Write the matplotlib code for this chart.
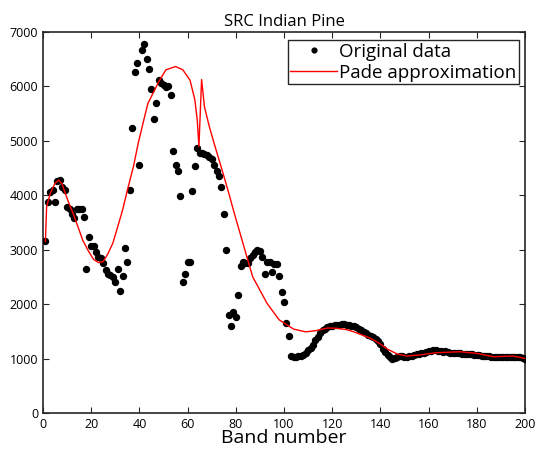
import numpy as np
import matplotlib
matplotlib.use("Agg")
import matplotlib.pyplot as plt

plt.rcParams["font.family"] = ["Open Sans", "DejaVu Sans"]

# original data: one value per band (1..200)
bands = np.arange(1, 201)
values = [
    3150, 3870, 4050, 4090, 3880, 4260, 4280, 4140, 4090, 3790,
    3740, 3660, 3580, 3740, 3740, 3740, 3600, 2640, 3230, 3070,
    3070, 2950, 2870, 2840, 2760, 2620, 2560, 2530, 2500, 2400,
    2640, 2240, 2510, 3020, 2770, 4090, 5240, 6260, 6430, 4560,
    6670, 6770, 6490, 6320, 5940, 5400, 5690, 6120, 6060, 6020,
    5990, 6000, 5830, 4810, 4560, 4440, 3990, 2410, 2550, 2770,
    2770, 4070, 4540, 4860, 4780, 4780, 4750, 4730, 4700, 4670,
    4560, 4450, 4350, 4150, 3660, 2990, 1800, 1600, 1860, 1770,
    2170, 2690, 2780, 2750, 2760, 2840, 2900, 2960, 2990, 2980,
    2870, 2560, 2780, 2780, 2590, 2730, 2730, 2510, 2230, 2030,
    1660, 1410, 1050, 1020, 1030, 1040, 1050, 1060, 1100, 1150,
    1190, 1250, 1340, 1400, 1470, 1520, 1550, 1570, 1590, 1600,
    1610, 1620, 1610, 1630, 1640, 1620, 1610, 1600, 1590, 1570,
    1550, 1520, 1490, 1460, 1430, 1410, 1390, 1360, 1330, 1260,
    1180, 1120, 1060, 1020, 1000, 1010, 1030, 1050, 1040, 1020,
    1030, 1040, 1050, 1060, 1080, 1090, 1100, 1110, 1120, 1130,
    1140, 1150, 1150, 1140, 1130, 1120, 1130, 1120, 1110, 1110,
    1110, 1100, 1100, 1090, 1090, 1080, 1080, 1080, 1070, 1060,
    1060, 1050, 1050, 1040, 1040, 1030, 1020, 1020, 1020, 1020,
    1030, 1030, 1030, 1020, 1030, 1020, 1020, 1020, 1010, 1000,
]

# pade approximation curve (sampled off the figure)
pade_x = [1, 1.5, 3, 5, 6.5, 8, 9, 10.5, 12.5, 14.5, 16.5, 19, 21, 23, 25,
          27, 29, 31, 33, 35, 37.5, 39.5, 41.5, 43.5, 46, 48, 51, 55, 58,
          61, 63, 64, 64.7, 65.8, 67, 69, 71, 73.5, 75.5, 77.5, 79, 83, 87,
          93, 98, 104, 109, 113, 118, 122, 126, 129, 136, 140, 143, 147, 151,
          156, 163, 173, 180, 187, 195, 200]
pade_y = [3150, 3790, 4030, 4220, 4275, 4200, 4060, 3880, 3660, 3420, 3170,
          2960, 2820, 2760, 2780, 2930, 3120, 3420, 3720, 4090, 4520, 4950,
          5320, 5680, 5900, 6080, 6300, 6360, 6300, 6110, 5750, 5380, 4890,
          6120, 5620, 5260, 4950, 4580, 4280, 3970, 3725, 3110, 2500, 2010,
          1710, 1540, 1490, 1510, 1560, 1555, 1530, 1490, 1370, 1266, 1170,
          1083, 1046, 1064, 1106, 1125, 1095, 1033, 1046, 1003]

fig = plt.figure(figsize=(5.39, 4.59), dpi=100)
ax = fig.add_axes([0.0798, 0.1002, 0.8942, 0.8308])

ax.plot(bands, values, "o", color="black", ms=4.3, mec="black",
        label="Original data", zorder=3)
ax.plot(pade_x, pade_y, "-", color="red", lw=1, label="Pade approximation",
        zorder=4)

ax.set_xlim(0, 200)
ax.set_ylim(0, 7000)
ax.set_xticks(range(0, 201, 20))
ax.set_yticks(range(0, 7001, 1000))
ax.tick_params(direction="in", top=True, right=True, labelsize=9,
               length=4, color="#262626")
for s in ax.spines.values():
    s.set_color("#262626")
    s.set_linewidth(1.2)

ax.set_title("SRC Indian Pine", fontsize=12, pad=4)
ax.set_xlabel("Band number", fontsize=14, labelpad=-1)

leg = ax.legend(loc="upper right", bbox_to_anchor=(0.988, 0.978),
                fontsize=13.5, frameon=True, fancybox=False,
                edgecolor="#262626", framealpha=1, handlelength=2.5,
                handletextpad=0.1, borderpad=0.15, labelspacing=0.15,
                borderaxespad=0, markerscale=0.8)
leg.get_frame().set_linewidth(1.0)

fig.savefig("out.png", dpi=100)
